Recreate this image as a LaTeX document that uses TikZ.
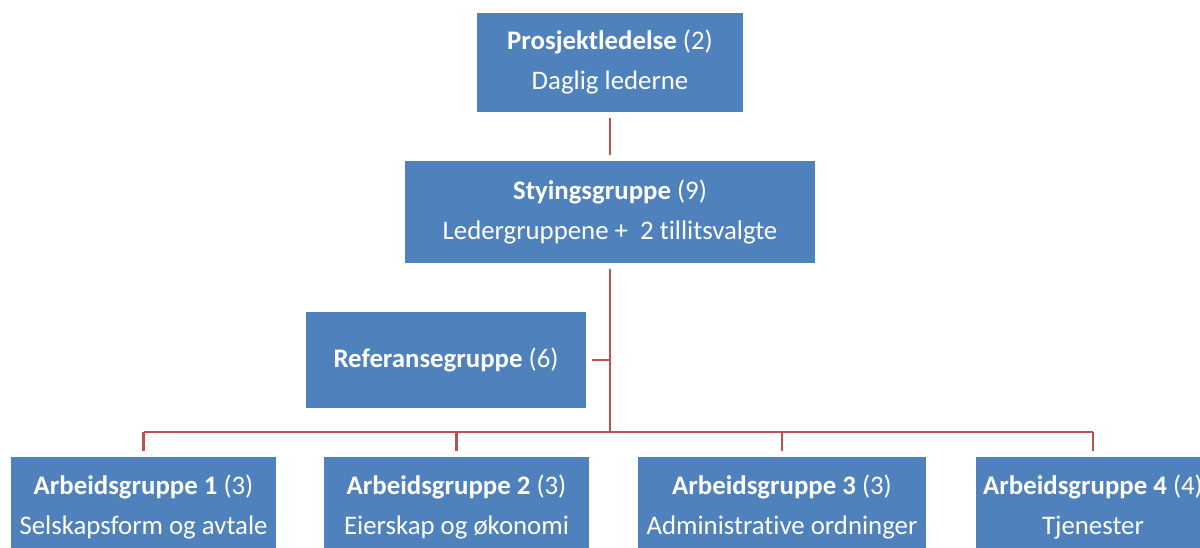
\documentclass[tikz,border=0pt]{standalone}
\usepackage{fontspec}
\setmainfont{Carlito}[Ligatures={NoCommon}]
\definecolor{boxblue}{HTML}{4F81BD}
\definecolor{linered}{HTML}{C0504D}
\begin{document}
\begin{tikzpicture}[x=1pt,y=-1pt,
  orgbox/.style={fill=boxblue, text=white, align=center, inner sep=0pt,
    outer sep=6pt, font=\fontsize{26.8}{40}\selectfont},
  conn/.style={draw=linered, line width=2.5pt}]
\useasboundingbox (0,0) rectangle (1200,548);
\node[orgbox, minimum width=266pt, minimum height=99pt] (top) at (610,62.5)
  {\textbf{Prosjektledelse} (2)\\Daglig lederne};
\node[orgbox, minimum width=410pt, minimum height=102pt] (styr) at (610,212)
  {\textbf{Styingsgruppe} (9)\\Ledergruppene +\ \ 2 tillitsvalgte};
\node[orgbox, minimum width=280pt, minimum height=96pt] (ref) at (446,360)
  {\textbf{Referansegruppe} (6)};
\node[orgbox, minimum width=265pt, minimum height=100pt] (ag1) at (143.5,507)
  {\textbf{Arbeidsgruppe 1} (3)\\Selskapsform og avtale};
\node[orgbox, minimum width=265pt, minimum height=100pt] (ag2) at (456.5,507)
  {\textbf{Arbeidsgruppe 2} (3)\\Eierskap og økonomi};
\node[orgbox, minimum width=288pt, minimum height=100pt] (ag3) at (782,507)
  {\textbf{Arbeidsgruppe 3} (3)\\Administrative ordninger};
\node[orgbox, minimum width=234pt, minimum height=100pt] (ag4) at (1093,507)
  {\textbf{Arbeidsgruppe 4} (4)\\Tjenester};
\coordinate (bus) at (610,432);
\draw[conn] (top) -- (styr);
\draw[conn] (styr.south) -- (bus);
\draw[conn] (ref.east) -- (ref.east -| bus);
\draw[conn] (ag1.north |- bus) -- (ag4.north |- bus);
\foreach \n in {ag1,ag2,ag3,ag4}
  \draw[conn] (\n.north) -- (\n.north |- bus);
\end{tikzpicture}
\end{document}
